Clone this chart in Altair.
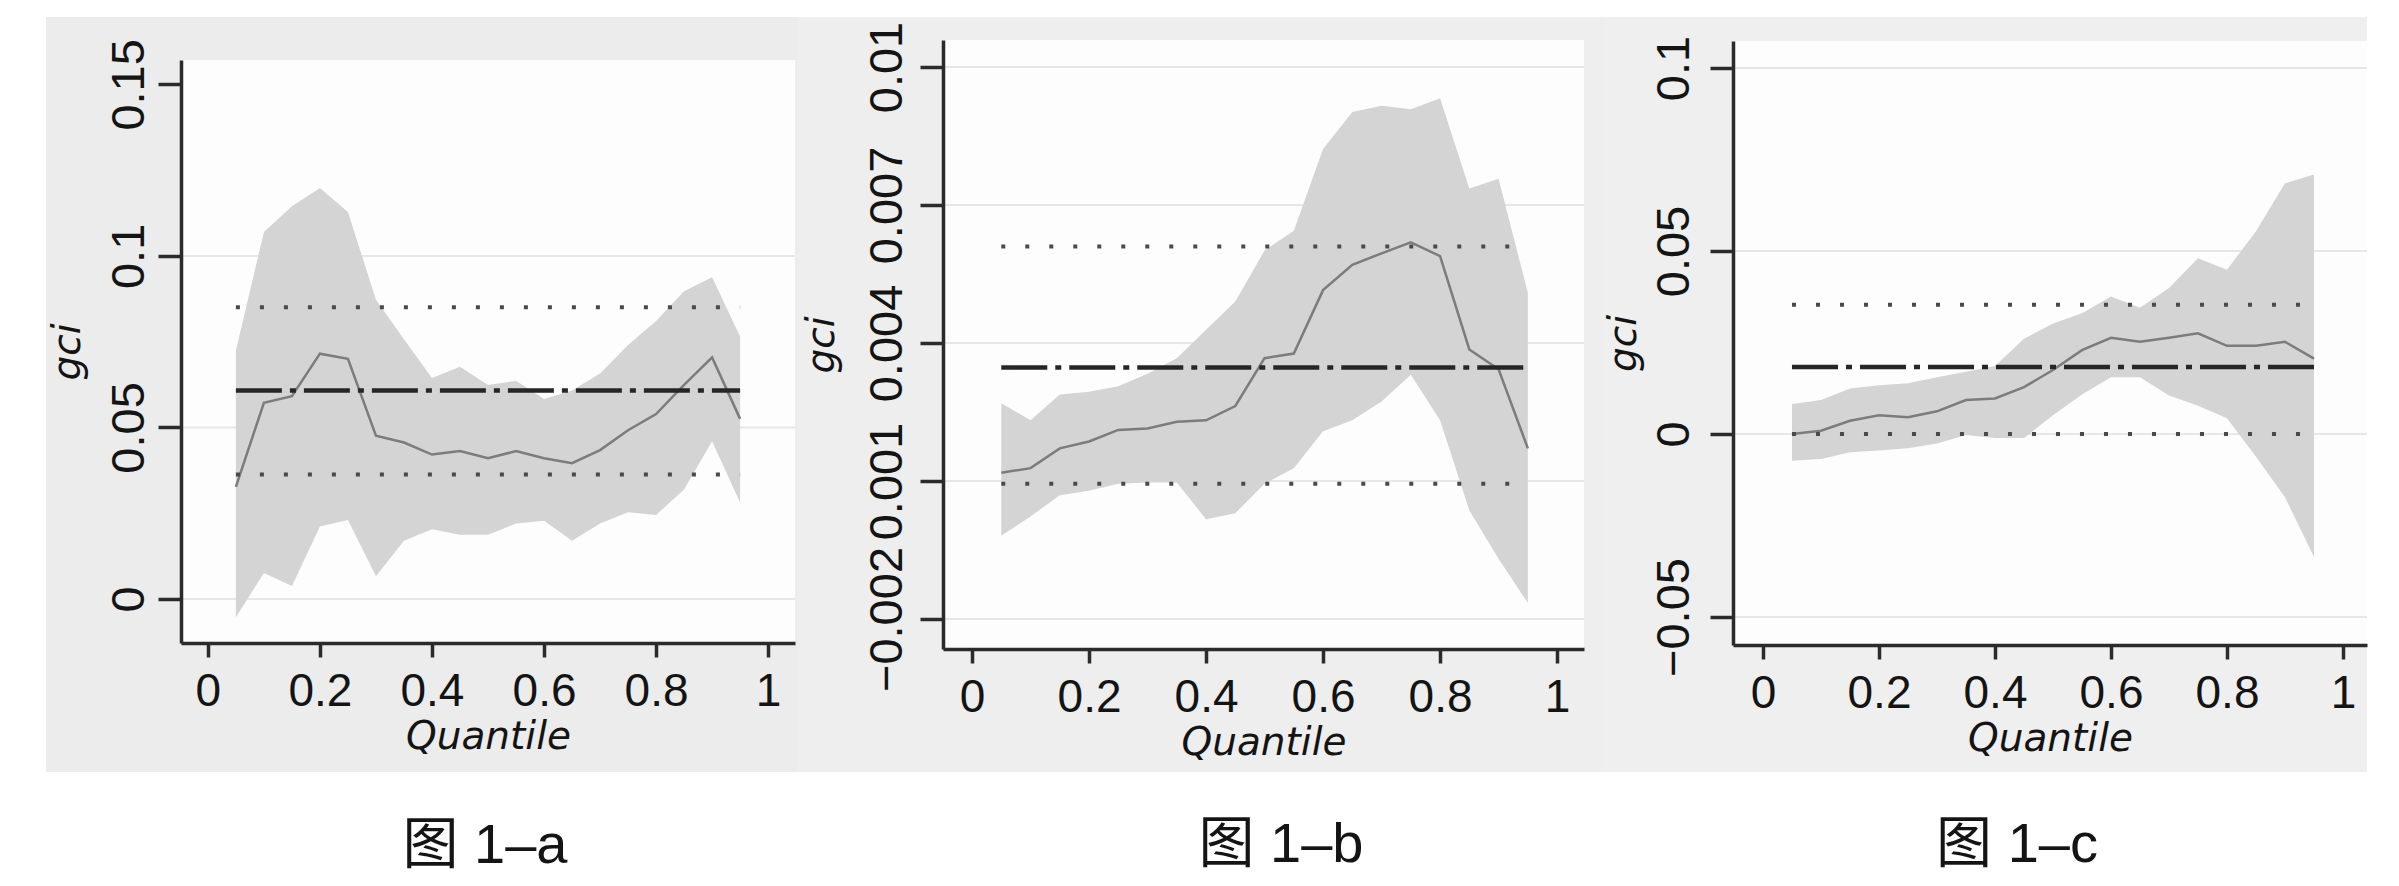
import altair as alt
import pandas as pd

# ---------------- data ----------------
quantiles = [0.05, 0.10, 0.15, 0.20, 0.25, 0.30, 0.35, 0.40, 0.45, 0.50,
             0.55, 0.60, 0.65, 0.70, 0.75, 0.80, 0.85, 0.90, 0.95]

# Panel a
a_est = [0.0327, 0.0572, 0.0591, 0.0715, 0.0700, 0.0476, 0.0456, 0.0421, 0.0431, 0.0410,
         0.0431, 0.0410, 0.0396, 0.0434, 0.0492, 0.0539, 0.0624, 0.0704, 0.0525]
a_hi = [0.0724, 0.1070, 0.1145, 0.1198, 0.1128, 0.0872, 0.0757, 0.0644, 0.0677, 0.0624,
        0.0636, 0.0583, 0.0608, 0.0657, 0.0740, 0.0810, 0.0897, 0.0938, 0.0765]
a_lo = [-0.0053, 0.0076, 0.0038, 0.0211, 0.0230, 0.0066, 0.0170, 0.0203, 0.0187, 0.0187,
        0.0220, 0.0228, 0.0170, 0.0220, 0.0253, 0.0245, 0.0319, 0.0460, 0.0281]
a_ols = [0.0608, 0.0363, 0.0850]  # estimate, lower CI, upper CI

# Panel b
b_est = [0.00118, 0.00128, 0.00171, 0.00186, 0.00211, 0.00214, 0.00229, 0.00232, 0.00263, 0.00367,
         0.00377, 0.00515, 0.00570, 0.00595, 0.00619, 0.00589, 0.00386, 0.00343, 0.00171]
b_hi = [0.00269, 0.00232, 0.00288, 0.00294, 0.00306, 0.00333, 0.00367, 0.00429, 0.00490, 0.00601,
        0.00644, 0.00822, 0.00902, 0.00916, 0.00908, 0.00932, 0.00736, 0.00757, 0.00509]
b_lo = [-0.00019, 0.00023, 0.00069, 0.00079, 0.00094, 0.00097, 0.00097, 0.00017, 0.00030, 0.00094,
        0.00128, 0.00208, 0.00232, 0.00273, 0.00331, 0.00232, 0.00036, -0.00069, -0.00165]
b_ols = [0.00347, 0.00094, 0.00610]

# Panel c
c_est = [0.0000, 0.0009, 0.0036, 0.0051, 0.0046, 0.0062, 0.0093, 0.0097, 0.0128, 0.0175,
         0.0229, 0.0263, 0.0252, 0.0263, 0.0275, 0.0241, 0.0241, 0.0252, 0.0206]
c_hi = [0.0082, 0.0093, 0.0124, 0.0133, 0.0139, 0.0155, 0.0170, 0.0186, 0.0260, 0.0302,
        0.0330, 0.0376, 0.0345, 0.0399, 0.0480, 0.0449, 0.0554, 0.0685, 0.0709]
c_lo = [-0.0073, -0.0068, -0.0050, -0.0045, -0.0039, -0.0026, -0.0003, -0.0011, -0.0011, 0.0051,
        0.0108, 0.0155, 0.0155, 0.0105, 0.0077, 0.0043, -0.0062, -0.0173, -0.0336]
c_ols = [0.0183, 0.0000, 0.0353]

x_ticks = [0, 0.2, 0.4, 0.6, 0.8, 1]
a_yticks = [0, 0.05, 0.1, 0.15]
b_yticks = [-0.002, 0.001, 0.004, 0.007, 0.01]
c_yticks = [-0.05, 0, 0.05, 0.1]
a_grid = [0, 0.05, 0.1]
b_grid = [-0.002, 0.001, 0.004, 0.007, 0.01]
c_grid = [-0.05, 0, 0.05, 0.1]
captions = ["图 1–a", "图 1–b", "图 1–c"]
y_title = "gci"
x_title = "Quantile"

LABEL_FONT = "Liberation Sans"
TITLE_FONT = "DejaVu Sans"
CAP_FONT = "Liberation Sans, Noto Sans CJK SC"
VIEW_H = 755


def panel(est, lo, hi, ols, yticks, grid, caption, w, bg,
          pl, pr, pt, pb, xdom, ydom, lab_pad, title_x, cap_x, cap_y):
    # w: width of the grey panel; pl/pr/pt/pb: plot rectangle inside it
    df = pd.DataFrame({"q": quantiles, "est": est, "lo": lo, "hi": hi})
    one = pd.DataFrame({"k": [0]})
    xs = alt.Scale(domain=xdom, range=[pl, pr], nice=False, zero=False)
    ys = alt.Scale(domain=ydom, range=[pb, pt], nice=False, zero=False)

    xaxis = alt.Axis(values=x_ticks, format="~g", grid=False, zindex=1, offset=-(VIEW_H - pb),
                     domainColor="#2b2b2b", domainWidth=3.5,
                     tickColor="#2b2b2b", tickWidth=3.5, tickSize=14,
                     labelFont=LABEL_FONT, labelFontSize=46, labelColor="#141414",
                     labelPadding=12, labelFlush=False, labelOverlap=False,
                     titleFont=TITLE_FONT, titleFontSize=39, titleFontStyle="italic",
                     titleFontWeight="normal", titleColor="#141414",
                     titleBaseline="alphabetic", titleY=105)
    yaxis = alt.Axis(values=yticks, format="~g", grid=False, zindex=1, offset=-pl,
                     domainColor="#2b2b2b", domainWidth=3.5,
                     tickColor="#2b2b2b", tickWidth=3.5, tickSize=23,
                     labelFont=LABEL_FONT, labelFontSize=47, labelColor="#141414",
                     labelAngle=270, labelAlign="center", labelBaseline="alphabetic",
                     labelPadding=lab_pad, labelFlush=False, labelOverlap=False,
                     titleFont=TITLE_FONT, titleFontSize=39, titleFontStyle="italic",
                     titleFontWeight="normal", titleColor="#141414",
                     titleAngle=270, titleAlign="center", titleBaseline="alphabetic",
                     titleX=title_x, titleY=(pt + pb) / 2)

    def X(f):
        return alt.X(f, scale=xs, axis=xaxis, title=x_title)

    def Y(f):
        return alt.Y(f, scale=ys, axis=yaxis, title=y_title)

    bgrect = alt.Chart(one).mark_rect(color=bg).encode(
        x=alt.value(0), x2=alt.value(w), y=alt.value(0), y2=alt.value(VIEW_H))
    plotrect = alt.Chart(one).mark_rect(color="#fdfdfd").encode(
        x=alt.value(pl), x2=alt.value(pr), y=alt.value(pt), y2=alt.value(pb))
    gridl = alt.Chart(pd.DataFrame({"g": grid})).mark_rule(
        color="#e7e7e7", strokeWidth=2).encode(
        y=Y("g:Q"), x=alt.value(pl), x2=alt.value(pr))

    band = alt.Chart(df).mark_area(color="#d4d4d4", opacity=1).encode(
        x=X("q:Q"), y=Y("lo:Q"), y2="hi:Q")

    line = alt.Chart(df).mark_line(color="#7c7c7c", strokeWidth=2.5).encode(
        x=X("q:Q"), y=Y("est:Q"))

    ols_df = pd.DataFrame({"v": ols, "kind": ["est", "ci", "ci"],
                           "x1": [quantiles[0]] * 3, "x2": [quantiles[-1]] * 3})
    dotted = alt.Chart(ols_df).transform_filter(alt.datum.kind == "ci").mark_rule(
        color="#4a4a4a", strokeWidth=4, strokeDash=[4, 20]).encode(
        x=X("x1:Q"), x2="x2:Q", y=Y("v:Q"))
    dashdot = alt.Chart(ols_df).transform_filter(alt.datum.kind == "est").mark_rule(
        color="#262626", strokeWidth=4.5, strokeDash=[46, 8, 6, 8]).encode(
        x=X("x1:Q"), x2="x2:Q", y=Y("v:Q"))

    cap = alt.Chart(one).mark_text(font=CAP_FONT, fontSize=56, color="#141414",
                                   align="center", baseline="alphabetic").encode(
        x=alt.value(cap_x), y=alt.value(cap_y), text=alt.value(caption))

    return alt.layer(bgrect, plotrect, gridl, band, line, dotted, dashdot, cap).properties(
        width=w, height=VIEW_H)


# grey panels: a x 46-797, b 797-1602, c 1602-2367 ; y 17-772 (reference pixels)
p1 = panel(a_est, a_lo, a_hi, a_ols, a_yticks, a_grid, captions[0], 751, "#ececec",
           135, 749, 43, 626, [-0.048, 1.048], [-0.01283, 0.1571], 15, -102, 439, 846)
p2 = panel(b_est, b_lo, b_hi, b_ols, b_yticks, b_grid, captions[1], 805, "#eeeeee",
           146, 787, 23, 632, [-0.0496, 1.046], [-0.002652, 0.010587], 19, -110, 484, 845)
p3 = panel(c_est, c_lo, c_hi, c_ols, c_yticks, c_grid, captions[2], 765, "#efefef",
           131, 765, 24, 628, [-0.0517, 1.0414], [-0.05765, 0.10738], 22, -98, 415, 845)

chart = alt.hconcat(p1, p2, p3, spacing=0).properties(
    padding={"left": 38, "top": 9, "right": 0, "bottom": 0},
    background="white",
).configure_view(strokeWidth=0)

chart.save("out.html", embed_options={"renderer": "svg", "actions": False})
